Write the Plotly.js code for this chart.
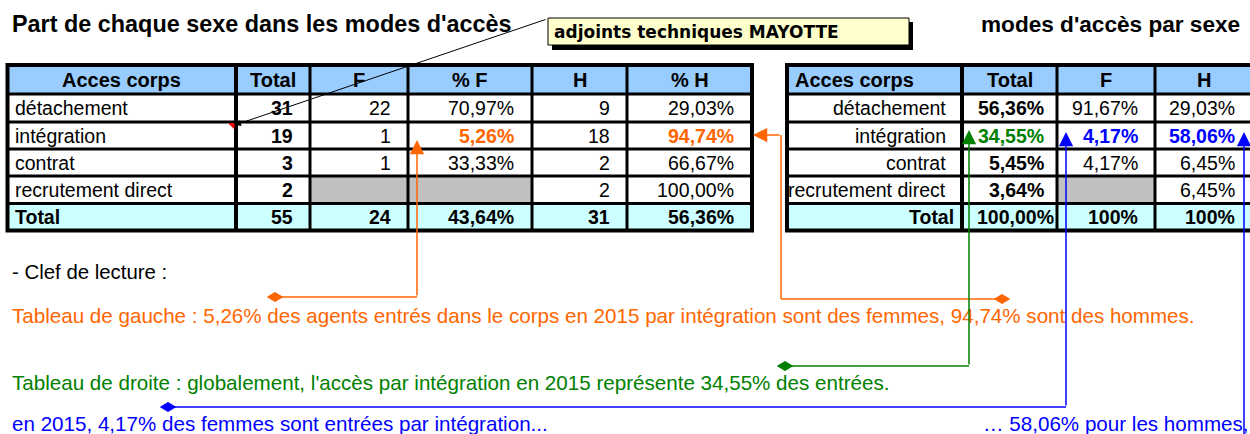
<!DOCTYPE html>
<html>
<head>
<meta charset="utf-8">
<script src="https://cdn.plot.ly/plotly-3.0.1.min.js"></script>
<style>
html,body{margin:0;padding:0;background:#fff;}
#chart{width:1250px;height:434px;}
</style>
</head>
<body>
<div id="chart"></div>
<script>
// ---------- data ----------
const categories = ['détachement', 'intégration', 'contrat', 'recrutement direct'];
const totalLabel = 'Total';
const headersLeft = ['Acces corps', 'Total', 'F', '% F', 'H', '% H'];
const headersRight = ['Acces corps', 'Total', 'F', 'H'];
const countTotal = ['31', '19', '3', '2'];
const countF = ['22', '1', '1', ''];
const pctF = ['70,97%', '5,26%', '33,33%', ''];
const countH = ['9', '18', '2', '2'];
const pctH = ['29,03%', '94,74%', '66,67%', '100,00%'];
const sumLeft = ['55', '24', '43,64%', '31', '56,36%'];
const shareTotal = ['56,36%', '34,55%', '5,45%', '3,64%'];
const shareF = ['91,67%', '4,17%', '4,17%', ''];
const shareH = ['29,03%', '58,06%', '6,45%', '6,45%'];
const sumRight = ['100,00%', '100%', '100%'];
const titleLeft = "Part de chaque sexe dans les modes d'accès";
const titleRight = "modes d'accès par sexe";
const calloutText = 'adjoints techniques MAYOTTE';
const noteKey = '- Clef de lecture :';
const noteOrange = 'Tableau de gauche : 5,26% des agents entrés dans le corps en 2015 par intégration sont des femmes, 94,74% sont des hommes.';
const noteGreen = "Tableau de droite : globalement, l'accès par intégration en 2015 représente 34,55% des entrées.";
const noteBlue1 = 'en 2015, 4,17% des femmes sont entrées par intégration...';
const noteBlue2 = '… 58,06% pour les hommes,';

// ---------- styles / geometry (pixels) ----------
const W = 1250, H = 434;
const FONT = 'Liberation Sans, Arial, sans-serif';
const HEAD = '#99CCFF', SUM = '#CCFFFF', GREY = '#C0C0C0', WHITE = '#FFFFFF';
const ORANGE = '#FF6600', GREEN = '#008000', BLUE = '#0000FF', BLACK = '#000000';
const HL = 1; // highlighted row (intégration)
const ROWS = [65, 94, 122, 149, 176, 203.5, 230.5];
const b = s => s === '' ? '' : '<b>' + s + '</b>';

function col(vals, sum, o) {
  o = o || {};
  return {
    v: vals.map((s, i) => (o.bold || i === o.hiBold) ? b(s) : s).concat([b(sum)]),
    c: vals.map((s, i) => i === o.hi ? o.hiColor : BLACK).concat([BLACK]),
    f: vals.map((s, i) => o.grey !== undefined && i === o.grey ? GREY : WHITE).concat([SUM]),
    align: o.align || 'right', pad: o.pad === undefined ? 15 : o.pad,
    sumAlign: o.sumAlign || o.align || 'right',
    sumPad: o.sumPad === undefined ? (o.pad === undefined ? 15 : o.pad) : o.sumPad
  };
}

const leftTable = {
  cols: [7.5, 236, 310, 408, 532, 627, 752],
  headers: headersLeft, headAlign: ['center', 'center', 'center', 'center', 'center', 'center'], headPad: 6,
  columns: [
    col(categories, totalLabel, {align: 'left', pad: 5}),
    col(countTotal, sumLeft[0], {bold: true}),
    col(countF, sumLeft[1], {grey: 3}),
    col(pctF, sumLeft[2], {grey: 3, hi: HL, hiColor: ORANGE, hiBold: HL, pad: 16}),
    col(countH, sumLeft[3]),
    col(pctH, sumLeft[4], {hi: HL, hiColor: ORANGE, hiBold: HL, pad: 16})
  ]
};
const rightTable = {
  cols: [787, 962, 1057, 1155, 1253],
  headers: headersRight, headAlign: ['left', 'center', 'center', 'center'], headPad: 6,
  columns: [
    col(categories, totalLabel, {pad: 14, sumPad: 6}),
    col(shareTotal, sumRight[0], {bold: true, hi: HL, hiColor: GREEN, pad: 11, sumPad: 1}),
    col(shareF, sumRight[1], {grey: 3, hi: HL, hiColor: BLUE, hiBold: HL, pad: 15}),
    col(shareH, sumRight[2], {hi: HL, hiColor: BLUE, hiBold: HL, pad: 16})
  ]
};

const shapes = [];
const annotations = [];

function cellText(text, align, x0, x1, pad, yc, color, size) {
  const x = align === 'left' ? x0 + pad : align === 'right' ? x1 - pad : (x0 + x1) / 2;
  annotations.push({xref: 'x', yref: 'y', x: x, y: yc, xanchor: align, yanchor: 'middle',
    text: text, showarrow: false, font: {family: FONT, size: size, color: color}});
}
function rect(x0, y0, x1, y1, fill) {
  shapes.push({type: 'rect', xref: 'x', yref: 'y', x0, y0, x1, y1, fillcolor: fill, line: {width: 0}, layer: 'above'});
}
function seg(x0, y0, x1, y1, color, width) {
  shapes.push({type: 'line', xref: 'x', yref: 'y', x0, y0, x1, y1, line: {color: color, width: width}, layer: 'above'});
}

function drawTable(t) {
  const cx = t.cols, nC = t.columns.length;
  // fills
  for (let j = 0; j < nC; j++) {
    rect(cx[j], ROWS[0], cx[j + 1], ROWS[1], HEAD);
    t.columns[j].f.forEach((f, i) => rect(cx[j], ROWS[i + 1], cx[j + 1], ROWS[i + 2], f));
  }
  // grid
  for (let i = 1; i < ROWS.length - 1; i++) seg(cx[0], ROWS[i], cx[nC], ROWS[i], BLACK, 3);
  for (let j = 1; j < nC; j++) seg(cx[j], ROWS[0], cx[j], ROWS[ROWS.length - 1], BLACK, j === 1 ? 4 : 3);
  shapes.push({type: 'rect', xref: 'x', yref: 'y', x0: cx[0], y0: ROWS[0], x1: cx[nC], y1: ROWS[ROWS.length - 1],
    line: {color: BLACK, width: 4}, layer: 'above'});
  // texts
  for (let j = 0; j < nC; j++) {
    const c = t.columns[j];
    cellText(b(t.headers[j]), t.headAlign[j], cx[j], cx[j + 1], t.headPad, (ROWS[0] + ROWS[1]) / 2, BLACK, 20);
    c.v.forEach((v, i) => {
      if (v === '') return;
      const isSum = i === c.v.length - 1;
      cellText(v, isSum ? c.sumAlign : c.align, cx[j], cx[j + 1], isSum ? c.sumPad : c.pad,
        (ROWS[i + 1] + ROWS[i + 2]) / 2, c.c[i], 19.5);
    });
  }
}
drawTable(leftTable);
drawTable(rightTable);

// red comment marker
shapes.push({type: 'path', xref: 'x', yref: 'y', path: 'M229,123.5 L234,123.5 L234,128.5 Z',
  fillcolor: '#FF0000', line: {color: '#FF0000', width: 1}, layer: 'above'});

// ---------- titles, notes, connectors ----------
function txt(text, x, y, color, size, family) {
  annotations.push({xref: 'x', yref: 'y', x: x, y: y, xanchor: 'left', yanchor: 'middle',
    text: text, showarrow: false, font: {family: family || FONT, size: size, color: color}});
}
function arrow(tipX, tipY, tailX, tailY, color, width, size) {
  annotations.push({xref: 'x', yref: 'y', x: tipX, y: tipY, axref: 'x', ayref: 'y', ax: tailX, ay: tailY,
    text: '', showarrow: true, arrowhead: 2, arrowsize: size, arrowwidth: width,
    arrowcolor: color, standoff: 0, startstandoff: 0});
}
function diamond(cx, cy, w, h, color) {
  shapes.push({type: 'path', xref: 'x', yref: 'y',
    path: 'M' + (cx - w / 2) + ',' + cy + ' L' + cx + ',' + (cy - h / 2) + ' L' + (cx + w / 2) + ',' + cy +
          ' L' + cx + ',' + (cy + h / 2) + ' Z',
    fillcolor: color, line: {color: color, width: 1}, layer: 'above'});
}

// callout box
rect(552, 22, 913, 50, BLACK);
shapes.push({type: 'rect', xref: 'x', yref: 'y', x0: 548, y0: 18, x1: 909, y1: 45,
  fillcolor: '#FFFFCC', line: {color: BLACK, width: 1}, layer: 'above'});

txt('<b>' + titleLeft + '</b>', 10, 24, BLACK, 23.4);
txt('<b>' + titleRight + '</b>', 979, 24, BLACK, 22.6);
txt('<b>' + calloutText + '</b>', 552, 32, BLACK, 17, 'DejaVu Sans, Verdana, sans-serif');
txt(noteKey, 10, 272, BLACK, 20.4);
txt(noteOrange, 10, 315, ORANGE, 20.6);
txt(noteGreen, 10, 382, GREEN, 20.6);
txt(noteBlue1, 10, 423, BLUE, 20.6);
txt(noteBlue2, 981, 423, BLUE, 20.6);

// connectors
seg(275, 297, 417, 297, ORANGE, 1.5);
diamond(275, 297, 15, 9, ORANGE);
seg(781, 135, 781, 299, ORANGE, 1.5);
seg(781, 299, 1002, 299, ORANGE, 1.5);
diamond(1002, 299, 15, 9, ORANGE);
seg(785, 366, 969, 366, GREEN, 1.5);
diamond(785, 366, 15, 9, GREEN);
seg(168, 407, 1066, 407, BLUE, 1.5);
diamond(168, 407, 15, 9, BLUE);
diamond(1070, 439, 14, 9, BLUE);

arrow(235, 125, 547, 19, BLACK, 1, 1.2);
arrow(417, 140, 417, 297, ORANGE, 1.5, 1.9);
arrow(753, 135, 781, 135, ORANGE, 1.5, 1.9);
arrow(969, 130, 969, 366, GREEN, 1.5, 1.9);
arrow(1066, 132, 1066, 407, BLUE, 1.5, 1.9);
arrow(1244, 132, 1244, 460, BLUE, 1.5, 1.9);

const layout = {
  width: W, height: H,
  margin: {l: 0, r: 0, t: 0, b: 0, pad: 0},
  paper_bgcolor: '#FFFFFF', plot_bgcolor: '#FFFFFF',
  showlegend: false,
  xaxis: {range: [0, W], visible: false, fixedrange: true, domain: [0, 1]},
  yaxis: {range: [H, 0], visible: false, fixedrange: true, domain: [0, 1]},
  annotations: annotations,
  shapes: shapes,
  font: {family: FONT}
};

Plotly.newPlot('chart', [], layout, {displayModeBar: false, staticPlot: true});
</script>
</body>
</html>
